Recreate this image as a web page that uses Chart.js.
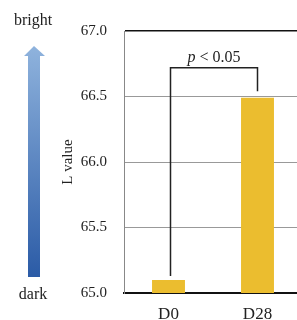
<!DOCTYPE html>
<html>
  <head>
    <title>L value</title>
    <script src="https://cdn.jsdelivr.net/npm/chart.js"></script>
    <style>
      html, body { margin: 0; padding: 0; background: #fff; overflow: hidden; }
      #wrap { width: 302px; height: 320px; }
    </style>
  </head>
  <body>
    <div id="wrap"><canvas id="myChart"></canvas></div>

    <script>
      const categories = ["D0", "D28"];
      const lValues = [65.1, 66.49];
      const yTicks = [65.0, 65.5, 66.0, 66.5, 67.0];
      const sigLabel = "p < 0.05";
      const bracketLevel = 66.72;

      const serif = "'Liberation Serif', 'DejaVu Serif', serif";

      // arrow, side labels, axis title and the significance bracket
      const extras = {
        id: "extras",
        afterDraw(chart) {
          const ctx = chart.ctx;
          const x = chart.scales.x;
          const y = chart.scales.y;
          ctx.save();

          // gradient arrow on the far left
          const g = ctx.createLinearGradient(0, 46, 0, 277);
          g.addColorStop(0, "#8fb3dd");
          g.addColorStop(1, "#2b5ba6");
          ctx.fillStyle = g;
          ctx.beginPath();
          ctx.moveTo(28, 277);
          ctx.lineTo(28, 56);
          ctx.lineTo(24, 56);
          ctx.lineTo(34, 46);
          ctx.lineTo(45, 56);
          ctx.lineTo(40, 56);
          ctx.lineTo(40, 277);
          ctx.closePath();
          ctx.fill();

          ctx.fillStyle = "#222";
          ctx.font = "16px " + serif;
          ctx.textAlign = "center";
          ctx.textBaseline = "middle";
          ctx.fillText("bright", 33, 21);
          ctx.fillText("dark", 33, 295);

          // y axis title
          ctx.save();
          ctx.translate(68, 162);
          ctx.rotate(-Math.PI / 2);
          ctx.font = "15px " + serif;
          ctx.fillText("L value", 0, 0);
          ctx.restore();

          // bracket
          const x0 = x.getPixelForValue(0) + 2;
          const x1 = x.getPixelForValue(1);
          const top = y.getPixelForValue(bracketLevel);
          ctx.strokeStyle = "#222";
          ctx.lineWidth = 1.5;
          ctx.beginPath();
          ctx.moveTo(x0, y.getPixelForValue(lValues[0] + 0.03));
          ctx.lineTo(x0, top);
          ctx.lineTo(x1, top);
          ctx.lineTo(x1, y.getPixelForValue(lValues[1] + 0.05));
          ctx.stroke();

          const cx = (x0 + x1) / 2;
          ctx.textAlign = "left";
          ctx.textBaseline = "alphabetic";
          ctx.font = "italic 16px " + serif;
          const pW = ctx.measureText("p").width;
          ctx.font = "16px " + serif;
          const rest = sigLabel.slice(1);
          const total = pW + ctx.measureText(rest).width;
          const sx = cx - total / 2;
          ctx.font = "italic 16px " + serif;
          ctx.fillText("p", sx, top - 6);
          ctx.font = "16px " + serif;
          ctx.fillText(rest, sx + pW, top - 6);

          ctx.restore();
        },
      };

      const ctx = document.getElementById("myChart").getContext("2d");
      new Chart(ctx, {
        type: "bar",
        data: {
          labels: categories,
          datasets: [
            {
              label: "L value",
              data: lValues,
              backgroundColor: "#ebbd2f",
              barPercentage: 0.37,
              categoryPercentage: 1,
            },
          ],
        },
        options: {
          responsive: true,
          maintainAspectRatio: false,
          animation: false,
          layout: { padding: { top: 31, bottom: 0, right: 0 } },
          plugins: { legend: { display: false }, tooltip: { enabled: false } },
          scales: {
            x: {
              afterFit: (axis) => {
                axis.height = 27;
              },
              grid: { display: false },
              border: { display: true, color: "#111", width: 2 },
              ticks: { color: "#222", font: { family: serif, size: 17 }, padding: 3 },
            },
            y: {
              min: 65,
              max: 67,
              afterBuildTicks: (axis) => {
                axis.ticks = yTicks.map((v) => ({ value: v }));
              },
              afterFit: (axis) => {
                axis.width = 124;
              },
              grid: {
                color: (c) => (c.tick && c.tick.value === 67 ? "#111" : "#999"),
                lineWidth: (c) => (c.tick && c.tick.value === 67 ? 1.5 : 1),
                drawTicks: false,
              },
              border: { display: true, color: "#888", width: 1 },
              ticks: {
                color: "#222",
                font: { family: serif, size: 15 },
                padding: 17,
                callback: (v) => Number(v).toFixed(1),
              },
            },
          },
        },
        plugins: [extras],
      });
    </script>
  </body>
</html>
